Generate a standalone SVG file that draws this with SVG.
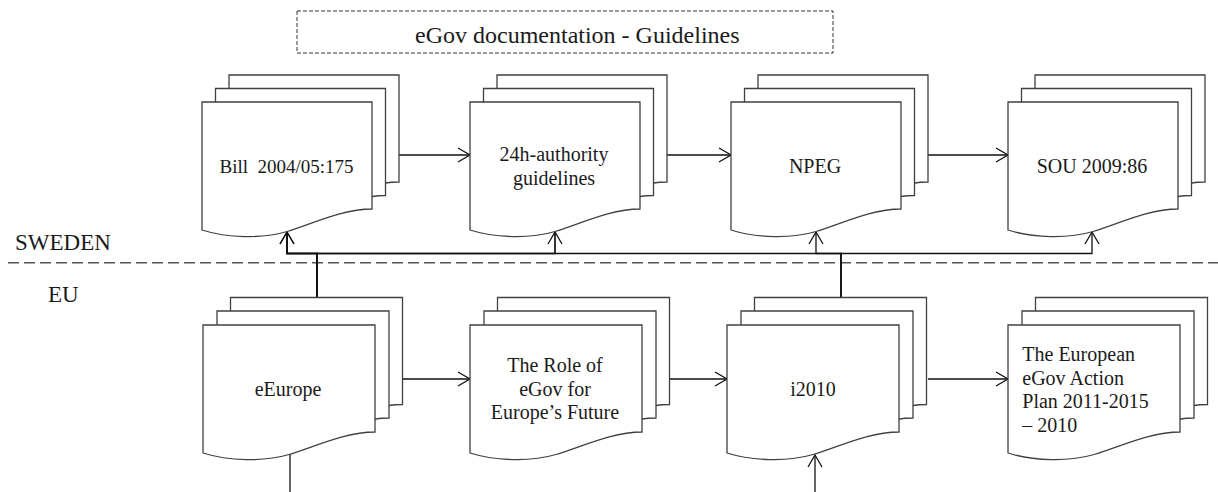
<svg xmlns="http://www.w3.org/2000/svg" xmlns:xlink="http://www.w3.org/1999/xlink" width="1218" height="492" viewBox="0 0 1218 492">
<style>
  .doc { fill: #ffffff; stroke: #404040; stroke-width: 1.3; }
  .lbl { font-family: "Liberation Serif", "Times New Roman", serif; font-size: 20px; fill: #1a1a1a; }
  .mid { text-anchor: middle; }
  .side { font-family: "Liberation Serif", "Times New Roman", serif; font-size: 23px; fill: #1a1a1a; }
  .title { font-family: "Liberation Serif", "Times New Roman", serif; font-size: 24px; fill: #1a1a1a; }
  .edge { fill: none; stroke: #111111; stroke-width: 1.3; }
  .thick { stroke-width: 1.9; }
  .arrow { marker-end: url(#open); }
  .divider { fill: none; stroke: #555555; stroke-width: 1.5; stroke-dasharray: 11 5; }
  .tbox { fill: none; stroke: #333333; stroke-width: 1; stroke-dasharray: 4 2; }
</style>
<defs>
  <path id="doc170" d="M0,0H170V107C140,107 110,122 85,129.5S25,136 0,128Z"/>
  <path id="doc172" d="M0,0H172V107C141.6,107 111.3,122 86,129.5S25.3,136 0,128Z"/>
  <marker id="open" markerUnits="userSpaceOnUse" markerWidth="15" markerHeight="16" viewBox="0 0 15 16" refX="13" refY="8" orient="auto">
    <path d="M1,1 L13,8 L1,15" fill="none" stroke="#111111" stroke-width="1.3"/>
  </marker>
</defs>

<g id="title">
  <rect class="tbox" x="297" y="11" width="536" height="42"/>
  <text class="title" x="415" y="43">eGov documentation - Guidelines</text>
</g>

<g id="regions">
  <path class="divider" d="M8,262.7H1218"/>
  <text class="side" x="15" y="250">SWEDEN</text>
  <text class="side" x="48" y="302">EU</text>
</g>

<g id="connectors">
  <path class="edge arrow" d="M399,155H470"/>
  <path class="edge arrow" d="M666,155H731"/>
  <path class="edge arrow" d="M927,155H1008"/>
  <path class="edge arrow" d="M403,379H470"/>
  <path class="edge arrow" d="M670,379H727"/>
  <path class="edge arrow" d="M928,379H1008"/>
  <path class="edge arrow thick" d="M317,298V253.5H287V232"/>
  <path class="edge arrow" style="stroke-width:1.7" d="M317,298V253.5H555V232"/>
  <path class="edge arrow" d="M841,298V253.5H287V232"/>
  <path class="edge arrow" d="M841,298V253.5H816V232"/>
  <path class="edge arrow" d="M841,298V253.5H1092V232"/>
  <path class="edge" d="M290,454V492"/>
  <path class="edge arrow" d="M815,492V455"/>
</g>

<g id="bill" transform="translate(202,102)">
  <use class="doc" xlink:href="#doc170" x="27" y="-27"/>
  <use class="doc" xlink:href="#doc170" x="13.5" y="-13.5"/>
  <use class="doc" xlink:href="#doc170"/>
  <text class="lbl mid" style="font-size:19px" x="84.5" y="71.3" xml:space="preserve">Bill  2004/05:175</text>
</g>

<g id="authority" transform="translate(470,102)">
  <use class="doc" xlink:href="#doc170" x="27" y="-27"/>
  <use class="doc" xlink:href="#doc170" x="13.5" y="-13.5"/>
  <use class="doc" xlink:href="#doc170"/>
  <text class="lbl mid" x="84" y="59.3">24h-authority</text>
  <text class="lbl mid" x="84" y="82.5">guidelines</text>
</g>

<g id="npeg" transform="translate(731,102)">
  <use class="doc" xlink:href="#doc170" x="27" y="-27"/>
  <use class="doc" xlink:href="#doc170" x="13.5" y="-13.5"/>
  <use class="doc" xlink:href="#doc170"/>
  <text class="lbl mid" x="84" y="71.3">NPEG</text>
</g>

<g id="sou" transform="translate(1008,102)">
  <use class="doc" xlink:href="#doc170" x="27" y="-27"/>
  <use class="doc" xlink:href="#doc170" x="13.5" y="-13.5"/>
  <use class="doc" xlink:href="#doc170"/>
  <text class="lbl mid" x="84" y="71.3">SOU 2009:86</text>
</g>

<g id="eeurope" transform="translate(203,325)">
  <use class="doc" xlink:href="#doc172" x="27.5" y="-27.5"/>
  <use class="doc" xlink:href="#doc172" x="14" y="-14"/>
  <use class="doc" xlink:href="#doc172"/>
  <text class="lbl mid" x="85" y="71">eEurope</text>
</g>

<g id="role" transform="translate(470,325)">
  <use class="doc" xlink:href="#doc172" x="27.5" y="-27.5"/>
  <use class="doc" xlink:href="#doc172" x="14" y="-14"/>
  <use class="doc" xlink:href="#doc172"/>
  <text class="lbl mid" x="85" y="47">The Role of</text>
  <text class="lbl mid" x="85" y="70.5">eGov for</text>
  <text class="lbl mid" x="85" y="94">Europe’s Future</text>
</g>

<g id="i2010" transform="translate(727,325)">
  <use class="doc" xlink:href="#doc172" x="27.5" y="-27.5"/>
  <use class="doc" xlink:href="#doc172" x="14" y="-14"/>
  <use class="doc" xlink:href="#doc172"/>
  <text class="lbl mid" x="86" y="71">i2010</text>
</g>

<g id="actionplan" transform="translate(1008,325)">
  <use class="doc" xlink:href="#doc172" x="27.5" y="-27.5"/>
  <use class="doc" xlink:href="#doc172" x="14" y="-14"/>
  <use class="doc" xlink:href="#doc172"/>
  <text class="lbl" x="14.3" y="36">The European</text>
  <text class="lbl" x="14.3" y="59.6">eGov Action</text>
  <text class="lbl" x="14.3" y="83.2">Plan 2011-2015</text>
  <text class="lbl" x="14.3" y="106.8">– 2010</text>
</g>
</svg>
